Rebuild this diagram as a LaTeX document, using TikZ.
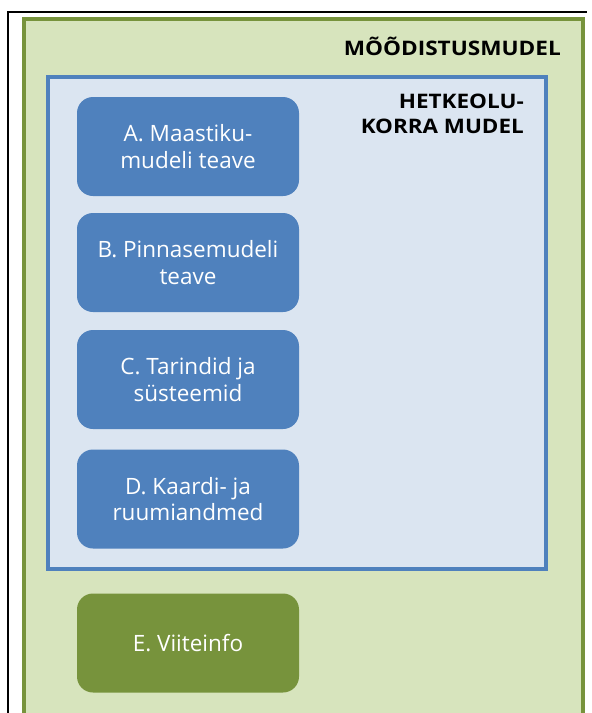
\documentclass[tikz,border=0pt]{standalone}
\usepackage{fontspec}
\setmainfont{Open Sans}
\usepackage{graphicx}
\definecolor{greenfill}{HTML}{D7E4BD}
\definecolor{greenline}{HTML}{77933C}
\definecolor{lightblue}{HTML}{DBE5F1}
\definecolor{blueline}{HTML}{4F81BD}
\definecolor{itemblue}{HTML}{4F81BD}
\tikzset{
  outerbox/.style={draw=greenline, line width=3.5pt, fill=greenfill, minimum width=559pt, minimum height=697pt, inner sep=0pt},
  innerbox/.style={draw=blueline, line width=3.5pt, fill=lightblue, minimum width=498pt, minimum height=492pt, inner sep=0pt},
  item/.style={fill=itemblue, rounded corners=16pt, minimum width=222pt, minimum height=99pt, inner sep=0pt,
    text=white, align=center, font=\fontsize{22.5pt}{26.5pt}\selectfont},
  greenitem/.style={item, fill=greenline},
  heading/.style={anchor=base east, inner sep=0pt, font=\fontsize{20pt}{22pt}\selectfont\bfseries},
  frame/.style={draw=black, line width=2.5pt}
}
\begin{document}
\begin{tikzpicture}[x=1pt, y=-1pt]
\useasboundingbox (0,0) rectangle (592,713);
\fill[white] (0,0) rectangle (592,713);
% black frame
\coordinate (fa) at (8,720);
\coordinate (fb) at (8,12);
\coordinate (fc) at (587,12);
\draw[frame] (fa) -- (fb) -- (fc);
% containers
\node[outerbox] (model) at (303.5,367.5) {};
\node[innerbox] (current) at (297,323) {};
% headings
\node[heading] (title) at (561,55.5) {\resizebox{217pt}{\height}{MÕÕDISTUSMUDEL}};
\node[heading] (sub1) at (524,108) {\resizebox{125pt}{\height}{HETKEOLU-}};
\node[heading] (sub2) at (524,133.5) {\resizebox{163pt}{\height}{KORRA MUDEL}};
% items
\node[item] (A) at (188,146.5) {A. Maastiku-\\mudeli teave};
\node[item] (B) at (188,262.5) {B. Pinnasemudeli\\teave};
\node[item] (C) at (188,379.5) {C. Tarindid ja\\süsteemid};
\node[item] (D) at (188,499) {D. Kaardi- ja\\ruumiandmed};
\node[greenitem] (E) at (188,643) {E. Viiteinfo};
\end{tikzpicture}
\end{document}
